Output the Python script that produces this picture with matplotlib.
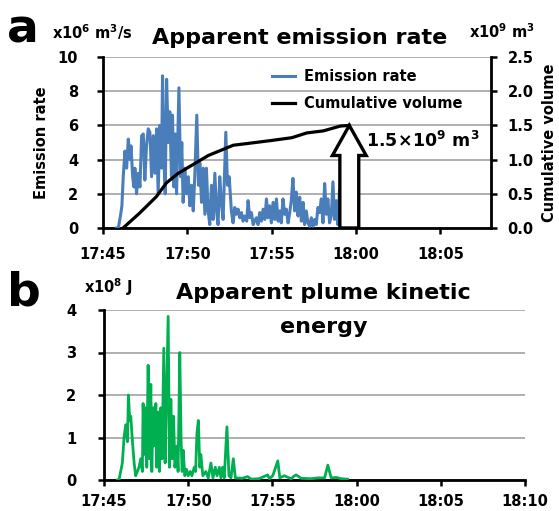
import matplotlib
matplotlib.use("Agg")
import matplotlib.pyplot as plt
from matplotlib.patches import FancyArrow
from matplotlib.lines import Line2D

plt.rcParams['font.family'] = ['DejaVu Sans']
plt.rcParams['font.weight'] = 'bold'

# ---------------- data (minutes after 17:45) ----------------
tick_minutes_a = [0, 5, 10, 15, 20]
tick_labels_a = ['17:45', '17:50', '17:55', '18:00', '18:05']
tick_minutes_b = [0, 5, 10, 15, 20, 25]
tick_labels_b = ['17:45', '17:50', '17:55', '18:00', '18:05', '18:10']

em_t = [0.80, 0.91, 1.05, 1.12, 1.20, 1.30, 1.40, 1.50, 1.60, 1.66, 1.76, 1.83, 1.89,
        1.99, 2.09, 2.19, 2.29, 2.39, 2.48, 2.58, 2.68, 2.78, 2.88, 2.98, 3.08,
        3.18, 3.27, 3.37, 3.47, 3.53, 3.61, 3.69, 3.77, 3.87, 3.96, 4.06, 4.12,
        4.20, 4.28, 4.36, 4.50, 4.60, 4.67, 4.75, 4.85, 4.95, 5.05, 5.15, 5.25,
        5.35, 5.44, 5.56, 5.66, 5.74, 5.84, 5.94, 6.04, 6.13, 6.23, 6.33, 6.43,
        6.53, 6.63, 6.73, 6.82, 6.92, 7.02, 7.12, 7.28, 7.38, 7.48, 7.61, 7.71,
        7.81, 7.91, 8.01, 8.11, 8.21, 8.30, 8.40, 8.52, 8.60, 8.70, 8.80, 8.90,
        8.99, 9.09, 9.19, 9.29, 9.39, 9.49, 9.59, 9.69, 9.78, 9.88, 9.98, 10.08,
        10.18, 10.28, 10.38, 10.48, 10.57, 10.67, 10.77, 10.87, 10.97, 11.07,
        11.16, 11.26, 11.36, 11.46, 11.56, 11.66, 11.76, 11.86, 11.95, 12.05,
        12.15, 12.25, 12.35, 12.45, 12.55, 12.64, 12.74, 12.84, 12.94, 13.04,
        13.14, 13.24, 13.33, 13.43, 13.53, 13.63, 13.73, 13.83, 13.92, 14.02, 14.08]
em_v = [0.0, 0.0, 0.8, 1.3, 3.0, 4.5, 3.5, 5.2, 4.0, 4.8, 3.0, 2.4, 3.5,
        2.0, 3.2, 2.4, 5.4, 5.5, 2.8, 4.8, 5.8, 5.6, 3.0, 5.4, 3.2,
        5.8, 2.0, 6.0, 3.5, 8.9, 4.0, 2.0, 8.7, 5.0, 6.8, 3.0, 6.6,
        2.4, 5.5, 2.0, 8.2, 3.0, 5.0, 1.5, 3.5, 2.0, 3.0, 1.3, 2.5,
        1.0, 3.0, 6.6, 2.5, 3.8, 1.5, 3.5, 0.8, 3.5, 1.0, 0.2, 2.5,
        0.5, 3.2, 1.0, 0.2, 3.0, 1.5, 0.5, 5.6, 2.5, 3.0, 1.0, 0.3,
        1.2, 0.8, 1.1, 0.6, 0.9, 0.4, 0.7, 0.4, 1.6, 0.6, 0.9, 0.2,
        0.4, 0.6, 0.2, 0.9, 0.4, 1.1, 0.5, 1.7, 0.6, 1.3, 0.3, 1.5,
        0.5, 1.7, 0.4, 1.0, 0.3, 1.7, 0.8, 1.1, 0.3, 0.9,
        1.6, 2.9, 1.0, 2.1, 0.7, 1.8, 0.4, 1.5, 0.2, 1.0,
        0.3, 0.1, 0.6, 0.1, 0.5, 0.2, 1.2, 0.9, 1.7, 0.3,
        2.6, 0.8, 1.7, 0.3, 0.7, 2.7, 0.5, 1.6, 0.2, 2.2, 0.0]

vol_t = [1.19, 2.18, 3.17, 3.76, 4.46, 5.15, 6.24, 7.13, 7.72, 8.71, 10.0, 11.19,
         12.08, 13.07, 14.06, 14.6]
vol_v = [0.0, 0.22, 0.46, 0.66, 0.80, 0.90, 1.06, 1.15, 1.21, 1.24, 1.28, 1.32,
         1.39, 1.42, 1.49, 1.50]

ke_t = [0.80, 0.89, 1.09, 1.19, 1.29, 1.39, 1.45, 1.53, 1.59, 1.69, 1.79, 1.88, 1.98,
        2.08, 2.18, 2.28, 2.32, 2.42, 2.48, 2.54, 2.62, 2.70, 2.78, 2.84, 2.92,
        2.98, 3.08, 3.13, 3.23, 3.29, 3.37, 3.45, 3.55, 3.63, 3.69, 3.81, 3.89,
        3.97, 4.05, 4.13, 4.21, 4.33, 4.40, 4.50, 4.58, 4.64, 4.70, 4.80, 4.90,
        5.00, 5.12, 5.22, 5.36, 5.44, 5.52, 5.60, 5.69, 5.75, 5.87, 6.05, 6.19,
        6.35, 6.47, 6.61, 6.71, 6.85, 6.94, 7.04, 7.14, 7.30, 7.42, 7.54, 7.68,
        7.80, 8.20, 8.53, 8.73, 9.20, 9.72, 9.82, 10.02, 10.32, 10.44, 10.71,
        11.11, 11.31, 11.41, 11.71, 12.30, 12.70, 13.10, 13.29, 13.49, 13.79,
        14.09, 14.46]
ke_v = [0.0, 0.0, 0.4, 1.0, 1.3, 0.9, 2.0, 1.4, 1.5, 0.9, 0.4, 0.1, 0.2,
        0.3, 0.5, 0.2, 1.8, 0.6, 1.7, 0.3, 2.7, 0.5, 2.25, 0.2, 1.7,
        0.8, 1.8, 0.3, 1.6, 0.2, 1.7, 0.5, 3.1, 0.4, 1.5, 3.85, 0.3,
        1.9, 0.5, 1.5, 0.3, 0.8, 0.2, 3.0, 0.9, 0.2, 0.7, 0.1, 0.25,
        0.1, 0.2, 0.1, 0.3, 0.2, 1.1, 1.4, 0.3, 0.6, 0.1, 0.2, 0.05,
        0.4, 0.05, 0.3, 0.1, 0.3, 0.05, 0.3, 0.05, 1.25, 0.1, 0.05, 0.5,
        0.05, 0.04, 0.08, 0.02, 0.03, 0.12, 0.03, 0.1, 0.45, 0.05, 0.1,
        0.03, 0.1, 0.12, 0.04, 0.03, 0.05, 0.05, 0.35, 0.05, 0.06,
        0.03, 0.02]

vol_total = 1.5

# ---------------- styling ----------------
BLUE = '#4A7EBB'
GREEN = '#00B050'
GRID = '#9A9A9A'
W, H = 559, 511

def fx(px):
    return px / W

def fy(py):
    return 1 - py / H

fig = plt.figure(figsize=(W / 100, H / 100), dpi=100)

def style_axis(ax, pad_y, pad_x):
    for s in ['top', 'right']:
        ax.spines[s].set_visible(False)
    for s in ['left', 'bottom']:
        ax.spines[s].set_linewidth(2.0)
        ax.spines[s].set_color('black')
    ax.tick_params(axis='both', direction='out', width=1.8, length=4,
                   labelsize=10.5, color='black')
    ax.tick_params(axis='y', pad=pad_y)
    ax.tick_params(axis='x', pad=pad_x)
    for lab in ax.get_xticklabels() + ax.get_yticklabels():
        lab.set_fontweight('bold')
    ax.yaxis.grid(True, color=GRID, linewidth=1.1)
    ax.set_axisbelow(True)

# ---------------- panel a ----------------
axa = fig.add_axes([fx(103), fy(228), fx(388), 171 / H])
axa.plot(em_t, em_v, color=BLUE, lw=2.2, zorder=3)
axa.set_xlim(0, 23.0)
axa.set_ylim(0, 10)
axa.set_yticks([0, 2, 4, 6, 8, 10])
axa.set_xticks(tick_minutes_a)
axa.set_xticklabels(tick_labels_a)
style_axis(axa, pad_y=14, pad_x=10)
axa.set_ylabel('Emission rate', fontsize=10.5, fontweight='bold', labelpad=6)

axb2 = axa.twinx()
axb2.plot(vol_t, vol_v, color='black', lw=2.3, zorder=4)
axb2.set_ylim(0, 2.5)
axb2.set_yticks([0, 0.5, 1.0, 1.5, 2.0, 2.5])
axb2.set_yticklabels(['0.0', '0.5', '1.0', '1.5', '2.0', '2.5'])
for s in ['top', 'left', 'bottom']:
    axb2.spines[s].set_visible(False)
axb2.spines['right'].set_linewidth(2.0)
axb2.tick_params(axis='y', direction='out', width=1.8, length=4, labelsize=10.5, pad=8)
for lab in axb2.get_yticklabels():
    lab.set_fontweight('bold')
axb2.set_ylabel('Cumulative volume', fontsize=10.5, fontweight='bold', labelpad=6)

# arrow marking total volume
arr = FancyArrow(vol_t[-1], 0, 0, vol_total, width=1.12, head_width=2.0,
                 head_length=0.44, length_includes_head=True,
                 facecolor='white', edgecolor='black', linewidth=2.4, zorder=5)
axb2.add_patch(arr)

handles = [Line2D([], [], color=BLUE, lw=2.2), Line2D([], [], color='black', lw=2.3)]
leg = fig.legend(handles, ['Emission rate', 'Cumulative volume'],
                 loc='upper left', bbox_to_anchor=(fx(272), fy(69)),
                 frameon=False, fontsize=10.5, handlelength=1.6, handletextpad=0.6,
                 labelspacing=0.85, borderaxespad=0, borderpad=0)
for t in leg.get_texts():
    t.set_fontweight('bold')

fig.text(fx(366), fy(141), r'$\mathbf{1.5\!\times\!10^{9}\ m^{3}}$', fontsize=12.5,
         ha='left', va='center')
fig.text(fx(300), fy(38), 'Apparent emission rate', fontsize=16, fontweight='bold',
         ha='center', va='center')
fig.text(fx(52), fy(32), r'$\mathbf{x10^{6}\ m^{3}/s}$', fontsize=10.5, ha='left', va='center')
fig.text(fx(469), fy(32), r'$\mathbf{x10^{9}\ m^{3}}$', fontsize=10.5, ha='left', va='center')
fig.text(fx(7), fy(30), 'a', fontsize=34, fontweight='heavy', ha='left', va='center')

# ---------------- panel b ----------------
axk = fig.add_axes([fx(104), fy(480), fx(421), 170 / H])
axk.plot(ke_t, ke_v, color=GREEN, lw=2.0, zorder=3)
axk.set_xlim(0, 25)
axk.set_ylim(0, 4)
axk.set_yticks([0, 1, 2, 3, 4])
axk.set_xticks(tick_minutes_b)
axk.set_xticklabels(tick_labels_b)
style_axis(axk, pad_y=16, pad_x=6)

fig.text(fx(323), fy(293), 'Apparent plume kinetic', fontsize=16, fontweight='bold',
         ha='center', va='center')
fig.text(fx(324), fy(327), 'energy', fontsize=16, fontweight='bold',
         ha='center', va='center')
fig.text(fx(84), fy(287), r'$\mathbf{x10^{8}\ J}$', fontsize=10.5, ha='left', va='center')
fig.text(fx(7), fy(293), 'b', fontsize=34, fontweight='heavy', ha='left', va='center')

fig.savefig('out.png', dpi=100)
